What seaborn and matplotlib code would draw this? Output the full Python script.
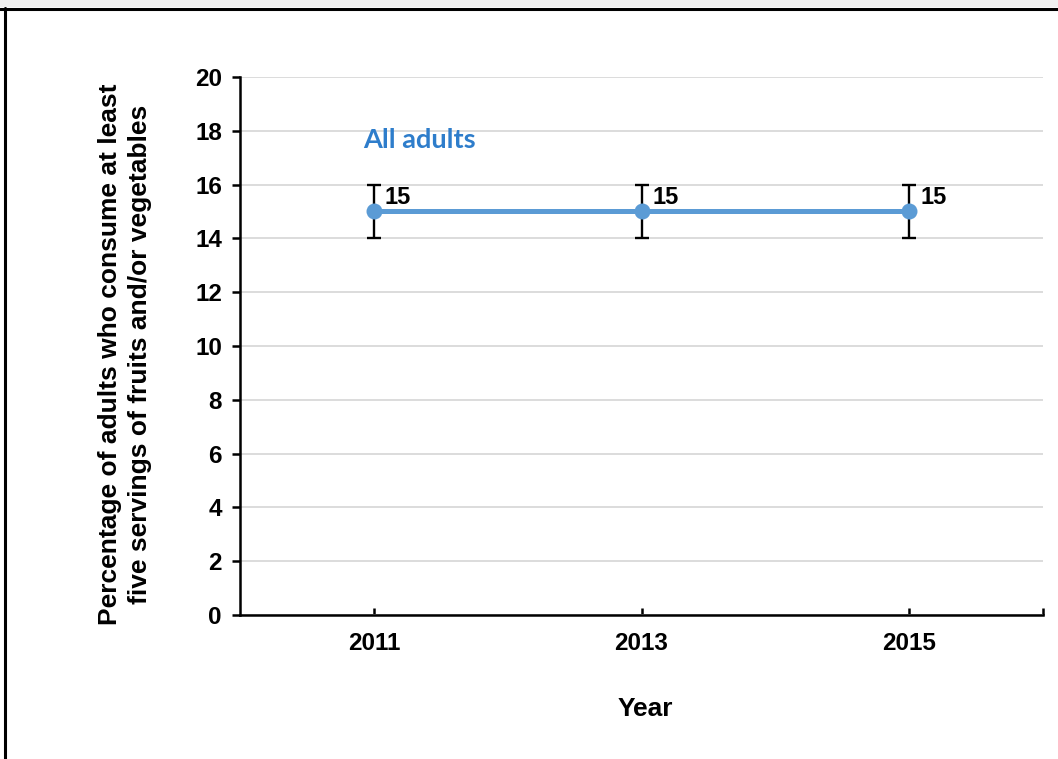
import matplotlib
matplotlib.use("Agg")
import matplotlib.pyplot as plt
import seaborn as sns
import pandas as pd
from matplotlib.lines import Line2D
from matplotlib.patches import Rectangle

years = ["2011", "2013", "2015"]
values = [15, 15, 15]
err_low = [14, 14, 14]
err_high = [16, 16, 16]
series_label = "All adults"

sns.set_theme(style="white")
plt.rcParams['font.family'] = ['Liberation Sans', 'DejaVu Sans']
plt.rcParams['text.color'] = 'black'
plt.rcParams['axes.labelcolor'] = 'black'
plt.rcParams['xtick.color'] = 'black'
plt.rcParams['ytick.color'] = 'black'

fig = plt.figure(figsize=(10.58, 7.59), dpi=100)
ax = fig.add_axes([240/1058, 1-615/759, (1043-240)/1058, (615-77)/759])

pos = list(range(len(years)))
df = pd.DataFrame({"pos": pos, "value": values})

ax.errorbar(pos, values,
            yerr=[[v - l for v, l in zip(values, err_low)], [h - v for v, h in zip(values, err_high)]],
            fmt="none", ecolor="black", elinewidth=1.7, capsize=5, capthick=1.7, zorder=3)
sns.lineplot(data=df, x="pos", y="value", ax=ax, color="#5B9BD5", linewidth=3.6,
             marker="o", markersize=11.5, markeredgewidth=0, zorder=4)

for p, v in zip(pos, values):
    ax.annotate(f"{v}", (p, v), xytext=(8, 1.5), textcoords="offset points",
                ha="left", va="bottom", fontsize=17, fontweight="bold", color="black")

ax.text(-0.04, 17.66, series_label, color="#2E7DCB", fontsize=19.5, fontweight="bold",
        family=["Lato", "DejaVu Sans"], ha="left", va="center")

ax.set_xlim(-0.5, 2.5)
ax.set_ylim(0, 20)
ax.set_yticks(range(0, 21, 2))
ax.set_xticks([0, 1, 2, 2.5])
ax.set_xticklabels(years + [""])
ax.yaxis.grid(True, color="#D9D9D9", linewidth=1.3)
ax.xaxis.grid(False)
ax.set_axisbelow(True)

for s in ["top", "right"]:
    ax.spines[s].set_visible(False)
for s in ["left", "bottom"]:
    ax.spines[s].set_color("black")
    ax.spines[s].set_linewidth(1.8)

ax.tick_params(axis="y", direction="out", length=6, width=1.8, color="black",
               labelsize=17.5, pad=7, left=True)
ax.tick_params(axis="x", direction="in", length=5, width=1.8, color="black",
               labelsize=17.5, pad=12, bottom=True)
for lbl in ax.get_xticklabels() + ax.get_yticklabels():
    lbl.set_fontweight("bold")

ax.set_xlabel("Year", fontsize=19, fontweight="bold")
ax.xaxis.set_label_coords((645 - 240) / 803, (615 - 697) / 538)
ax.set_ylabel("Percentage of adults who consume at least\nfive servings of fruits and/or vegetables",
              fontsize=19, fontweight="bold", linespacing=1.3)
ax.yaxis.set_label_coords((152 - 240) / 803, (615 - 354) / 538)

# figure frame (cropped screenshot style)
fig.patches.append(Rectangle((0, 1 - 7/759), 1, 7/759, transform=fig.transFigure,
                             facecolor="#F0F0F0", edgecolor="none", zorder=0))
fig.lines.append(Line2D([0, 1], [1 - 8.5/759, 1 - 8.5/759], transform=fig.transFigure,
                        color="black", linewidth=2.2))
fig.lines.append(Line2D([4.5/1058, 4.5/1058], [0, 1 - 7.5/759], transform=fig.transFigure,
                        color="black", linewidth=2.2))

fig.savefig("out.png", dpi=100)
